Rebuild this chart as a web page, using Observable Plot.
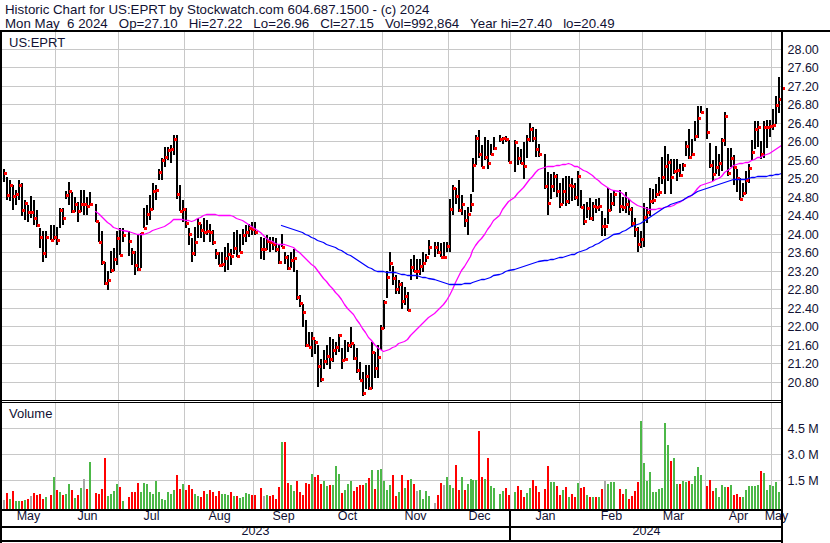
<!DOCTYPE html>
<html><head><meta charset="utf-8">
<script src="https://cdn.jsdelivr.net/npm/d3@7"></script>
<script src="https://cdn.jsdelivr.net/npm/@observablehq/plot@0.6"></script>
<style>
body{margin:0;background:#fff;}
#c{position:relative;width:830px;height:543px;overflow:hidden;font-family:"Liberation Sans",Arial,sans-serif;color:#111133;}
.t{position:absolute;white-space:pre;line-height:1;}
.ln{position:absolute;background:#000;}
#c svg{position:absolute;left:0;overflow:visible;}
</style></head><body><div id="c"></div>
<script>
// ---- data ----
const firstDay = "2023-05-08", lastDay = "2024-05-06";
const holidays = ["2023-05-29","2023-06-19","2023-07-04","2023-09-04","2023-11-23","2023-12-25","2024-01-01","2024-01-15","2024-02-19","2024-03-29"];

const high = [
25.41,25.23,25.16,25.05,24.94,25.16,25.09,24.73,24.62,24.82,24.73,24.51,24.12,24.05,24.05,
24.20,24.19,24.15,24.55,24.55,24.92,25.12,24.91,24.80,24.69,24.94,24.94,24.80,24.91,
24.64,24.26,24.05,23.40,23.19,23.62,23.69,24.05,24.12,24.12,
24.06,23.69,23.62,23.98,24.01,24.55,24.62,24.84,25.09,25.05,25.41,25.63,25.88,25.88,25.91,26.14,26.14,25.05,24.73,24.55,24.12,23.90,24.15,24.33,24.22,24.33,24.29,24.22,24.08,23.68,23.61,23.61,23.72,23.79,23.68,24.04,24.08,24.00,24.11,24.18,24.22,24.26,24.26,
23.94,23.90,23.97,23.93,23.93,23.90,23.75,24.00,23.61,23.54,23.61,23.68,23.21,22.67,22.49,22.13,21.88,21.88,21.70,21.59,21.30,21.48,21.59,21.77,21.73,21.66,21.84,21.52,21.70,21.66,21.98,21.62,21.52,21.23,21.01,21.16,21.16,21.66,21.44,21.59,22.03,22.57,23.20,23.61,23.30,23.10,23.00,22.95,22.85,22.75,23.46,23.53,23.46,23.46,23.61,23.57,23.86,
23.82,23.82,23.79,23.82,23.82,24.76,25.05,24.98,25.16,24.83,24.51,24.58,24.87,25.63,26.14,26.24,25.91,26.09,26.02,25.95,26.09,
26.13,26.09,26.12,26.02,
26.02,25.88,25.84,25.99,26.13,26.40,26.31,26.27,25.95,
25.73,25.34,25.30,25.34,25.30,25.10,25.20,25.25,25.25,25.20,25.10,25.35,24.95,24.64,24.68,24.78,24.68,24.75,24.78,24.50,24.35,25.00,24.89,24.94,
24.95,24.80,24.90,24.75,24.57,24.35,24.14,24.06,24.66,24.57,25.00,24.96,25.07,25.22,25.65,25.90,25.72,25.61,25.61,25.61,25.51,25.54,26.01,26.26,26.05,26.44,26.77,26.77,
26.73,25.97,25.60,25.90,25.72,26.06,26.64,25.85,25.85,25.70,25.40,25.20,25.10,25.35,25.50,26.03,26.43,26.43,26.00,26.43,26.45,26.45,26.70,26.98,27.40,27.22];

const low = [
25.12,24.73,24.71,24.51,24.62,24.73,24.39,24.30,24.26,24.33,24.19,24.15,23.69,23.39,23.47,
23.87,23.87,23.76,24.12,24.19,24.75,24.62,24.44,24.48,24.25,24.48,24.41,24.41,24.62,
24.26,23.83,23.33,22.90,22.79,23.15,23.19,23.33,23.54,23.83,
23.51,23.33,23.11,23.19,23.26,24.12,24.19,24.30,24.51,24.73,25.16,25.16,25.45,25.59,25.52,25.70,24.75,24.49,24.26,24.12,23.76,23.39,23.51,23.90,23.90,23.82,23.97,23.82,23.75,23.46,23.33,23.28,23.17,23.21,23.32,23.57,23.50,23.61,23.75,23.82,23.93,23.97,23.97,
23.46,23.43,23.64,23.61,23.64,23.61,23.35,23.72,23.35,23.21,23.25,23.17,22.56,22.42,21.98,21.55,21.55,21.34,21.41,20.69,20.80,21.08,21.16,21.08,21.23,21.37,21.44,21.08,21.26,21.44,21.52,21.26,20.99,20.83,20.49,20.65,20.63,20.65,20.87,20.87,21.48,21.95,22.60,23.20,22.90,22.70,22.70,22.37,22.45,22.34,23.00,23.17,23.03,23.10,23.17,23.39,23.53,
23.50,23.57,23.50,23.46,23.61,23.61,24.40,24.65,24.47,24.40,24.15,23.98,24.47,24.90,25.48,25.63,25.44,25.59,25.41,25.70,25.81,
25.99,25.95,25.99,25.55,
25.34,25.48,25.50,25.19,25.63,25.99,25.99,25.66,25.66,
24.97,24.40,24.75,24.90,24.80,24.55,24.65,24.60,24.65,24.70,24.72,24.60,24.55,24.20,24.35,24.30,24.28,24.45,24.50,23.96,23.96,24.21,24.50,24.60,
24.45,24.50,24.45,24.40,24.14,23.92,23.60,23.70,23.72,24.24,24.39,24.64,24.78,24.82,25.07,24.86,25.15,24.86,25.29,25.15,25.22,25.36,25.69,25.62,25.69,26.01,26.08,26.62,
26.05,25.43,25.15,25.30,25.24,25.36,25.90,25.25,25.45,25.05,24.90,24.72,24.80,24.85,25.10,25.60,25.83,25.87,25.62,25.63,25.85,26.10,26.25,26.37,26.62,26.96];

const close = [
25.32,24.84,25.05,24.82,24.86,25.05,24.51,24.66,24.46,24.46,24.35,24.20,23.93,23.59,23.93,
23.87,23.93,23.87,24.52,24.35,24.84,24.92,24.49,24.64,24.49,24.64,24.64,24.61,24.65,
24.27,23.83,23.40,22.93,23.01,23.21,23.46,23.90,23.54,23.97,
23.85,23.61,23.33,23.23,24.01,24.13,24.42,24.53,24.93,24.95,25.34,25.60,25.65,25.81,25.83,26.04,24.87,24.49,24.54,24.23,23.99,23.59,23.82,24.24,24.08,24.04,24.05,24.04,23.82,23.59,23.33,23.35,23.48,23.57,23.52,23.70,23.52,23.61,23.98,24.04,24.13,24.11,24.04,
23.66,23.66,23.85,23.82,23.77,23.68,23.39,23.72,23.50,23.25,23.44,23.48,22.63,22.51,22.31,21.59,21.55,21.75,21.66,21.14,20.85,21.25,21.35,21.30,21.49,21.55,21.80,21.28,21.29,21.59,21.64,21.31,21.05,20.83,20.55,20.93,20.67,21.44,21.10,21.34,21.96,22.53,23.07,23.36,23.05,22.80,22.92,22.55,22.66,22.36,23.28,23.20,23.20,23.30,23.37,23.50,23.71,
23.71,23.61,23.50,23.50,23.74,24.53,24.99,24.82,24.51,24.65,24.29,24.42,24.65,25.48,26.07,25.73,25.44,25.66,25.52,25.73,25.85,
26.04,26.06,26.05,25.55,
25.99,25.64,25.52,25.46,26.04,26.26,26.07,25.83,25.73,
25.03,24.67,25.03,25.24,24.92,24.65,24.92,24.70,25.05,25.03,24.80,25.25,24.57,24.27,24.55,24.35,24.60,24.57,24.61,24.17,24.17,24.52,24.67,24.87,
24.60,24.57,24.65,24.54,24.24,24.11,23.78,23.88,24.37,24.48,24.71,24.73,24.86,24.91,25.22,25.47,25.56,25.23,25.35,25.38,25.27,25.49,25.90,25.67,25.72,26.12,26.51,26.64,
26.19,25.49,25.30,25.45,25.52,26.03,26.54,25.32,25.64,25.45,25.20,24.75,24.89,25.16,25.43,25.77,26.26,26.31,25.72,26.30,26.31,26.34,26.35,26.79,26.91,27.15];

// volume in millions of shares
const volume = [
0.35,0.75,0.42,0.87,0.31,0.27,0.31,0.35,0.42,0.60,0.75,0.64,0.68,0.42,0.52,
0.64,1.66,0.93,0.79,0.64,0.68,1.24,0.93,0.44,0.64,1.02,1.56,0.98,2.53,
0.75,0.68,0.98,2.76,0.56,0.71,0.87,1.24,1.09,0.31,
0.52,0.79,0.79,1.32,0.83,1.32,1.28,0.83,0.68,1.45,0.79,0.42,0.35,0.79,0.68,0.90,1.79,0.98,1.28,0.94,1.22,0.98,0.68,0.60,0.52,0.87,0.70,0.90,0.80,0.60,0.86,0.70,0.67,0.62,0.82,0.60,0.60,0.45,0.50,0.72,0.68,0.62,0.65,
1.02,0.56,0.64,0.56,0.64,0.42,1.11,3.72,3.72,1.32,1.20,0.87,1.45,0.83,0.64,1.32,1.26,1.84,1.69,1.80,1.26,1.45,1.18,1.20,1.20,2.32,1.84,0.73,0.92,1.24,1.47,0.87,1.11,1.20,1.20,1.30,1.60,2.07,0.98,2.09,2.15,1.45,0.92,1.20,1.80,0.56,0.83,1.80,1.05,1.50,1.56,1.25,0.86,0.92,0.40,0.86,0.59,
0.15,0.63,1.31,1.21,1.67,1.21,1.02,2.37,0.92,1.67,0.92,1.25,1.54,1.50,1.50,4.34,1.67,1.56,2.76,1.15,1.02,
0.69,0.86,1.02,0.63,
0.82,1.15,0.92,0.53,0.73,1.02,1.48,1.15,0.78,
0.98,2.31,1.36,1.36,1.15,0.63,0.92,1.07,0.49,0.69,0.53,1.31,1.06,1.11,0.63,0.53,0.53,0.53,0.53,0.96,1.44,1.25,1.36,1.36,
0.98,0.71,0.98,0.40,0.57,0.86,1.36,4.92,2.47,1.44,1.95,0.78,0.78,0.98,1.02,4.81,3.53,2.60,2.76,1.25,1.25,1.44,1.36,1.44,1.25,1.75,2.24,1.79,
1.15,1.48,0.86,1.02,0.53,1.21,1.11,1.11,1.21,0.63,0.71,0.53,0.51,0.92,1.17,1.17,1.17,1.20,2.02,1.91,0.92,1.21,1.17,1.36,0.82,0.99];

const monthStarts = ["2023-06-01","2023-07-01","2023-08-01","2023-09-01","2023-10-01","2023-11-01","2023-12-01","2024-01-01","2024-02-01","2024-03-01","2024-04-01","2024-05-01"];
const monthNames = ["May","Jun","Jul","Aug","Sep","Oct","Nov","Dec","Jan","Feb","Mar","Apr","May"];
const yearNames = ["2023","2024"];
const priceTicks = [20.80,21.20,21.60,22.00,22.40,22.80,23.20,23.60,24.00,24.40,24.80,25.20,25.60,26.00,26.40,26.80,27.20,27.60,28.00];
const volumeTicks = [1.5,3.0,4.5];
const titleLine1 = "Historic Chart for US:EPRT by Stockwatch.com 604.687.1500 - (c) 2024";
const titleLine2 = "Mon May  6 2024   Op=27.10   Hi=27.22   Lo=26.96   Cl=27.15   Vol=992,864   Year hi=27.40   lo=20.49";
const symbolName = "US:EPRT";
const volumeName = "Volume";

// ---- weekday slots (holidays keep an empty slot) ----
const iso = d => d.toISOString().slice(0,10);
const slotOf = new Map();
{
  let d = new Date(firstDay+"T00:00:00Z"), s = 0;
  const end = new Date(lastDay+"T00:00:00Z").getTime();
  while (d.getTime() <= end) {
    const wd = d.getUTCDay();
    if (wd !== 0 && wd !== 6) slotOf.set(iso(d), s++);
    d = new Date(d.getTime() + 864e5);
  }
}
const hol = new Set(holidays);
const tradingSlots = [...slotOf.entries()].filter(([k]) => !hol.has(k)).map(([,v]) => v);
const data = tradingSlots.map((slot, i) => ({
  slot, high: high[i], low: low[i], close: close[i], volume: volume[i],
  dir: i === 0 ? 0 : Math.sign(Math.round((close[i] - close[i-1]) * 100))
}));

function boundary(s) {
  const d = new Date(s+"T00:00:00Z"), wd = d.getUTCDay();
  if (wd !== 0 && wd !== 6) return slotOf.get(s) - 0.35;
  let p = d;
  do { p = new Date(p.getTime() - 864e5); } while (p.getUTCDay() === 0 || p.getUTCDay() === 6);
  return slotOf.get(iso(p)) - 0.3;
}
const xDomain = [-0.87, 260.41];
const bounds = monthStarts.map(boundary);
const edges = [xDomain[0], ...bounds, xDomain[1]];
const monthLabels = monthNames.map((name, i) => ({name, x: (edges[i] + edges[i+1]) / 2}));
const janBound = boundary("2024-01-01");
const yearLabels = [{name: yearNames[0], x: (xDomain[0] + janBound) / 2}, {name: yearNames[1], x: (janBound + xDomain[1]) / 2}];

const GREEN = "#4cb848", RED = "#ff0000", GRAY = "#a8a8a8", GRID = "#c8c8c8";
const font = "'Liberation Sans', Arial, sans-serif";
const colorOf = d => d.dir > 0 ? GREEN : d.dir < 0 ? RED : GRAY;

const c = document.getElementById("c");

// ---- price panel (page y 32..400) ----
const price = Plot.plot({
  width: 830, height: 368, marginLeft: 0, marginRight: 48, marginTop: 0, marginBottom: 0,
  x: {domain: xDomain, axis: null, round: true},
  y: {domain: [20.405, 28.363], axis: null, round: true, label: null},
  style: {fontFamily: font, fontSize: "12.5px", color: "#111133", background: "transparent"},
  marks: [
    Plot.gridY(priceTicks, {stroke: GRID, strokeOpacity: 1}),
    Plot.gridX(bounds, {stroke: GRID, strokeOpacity: 1}),
    Plot.ruleX(data, {x: "slot", y1: "low", y2: "high", stroke: "#000", strokeWidth: 2, dx: 0.5}),
    Plot.dot(data, {x: "slot", y: "close", symbol: "square", r: 1.45, fill: RED, stroke: "none", dx: 2, shapeRendering: "crispEdges"}),
    Plot.lineY(data, Plot.windowY({k: 30, anchor: "end", strict: true, reduce: "mean"}, {x: "slot", y: "close", stroke: "#ff00ff", strokeWidth: 1.3})),
    Plot.lineY(data, Plot.windowY({k: 90, anchor: "end", strict: true, reduce: "mean"}, {x: "slot", y: "close", stroke: "#0000ff", strokeWidth: 1.3})),
    Plot.axisY(priceTicks, {anchor: "right", label: null, tickSize: 0, tickPadding: 5, tickFormat: d => d.toFixed(2), fontSize: 12.5})
  ]
});
price.style.top = "32px";
c.appendChild(price);

// ---- volume panel (page y 402..510) + date axis ----
const vol = Plot.plot({
  width: 830, height: 141, marginLeft: 0, marginRight: 48, marginTop: 0, marginBottom: 33,
  x: {domain: xDomain, axis: null, round: true},
  y: {domain: [-0.241, 6.027], axis: null, round: true, label: null},
  style: {fontFamily: font, fontSize: "12.5px", color: "#111133", background: "transparent"},
  marks: [
    Plot.gridY(volumeTicks, {stroke: GRID, strokeOpacity: 1}),
    Plot.gridX(bounds, {stroke: GRID, strokeOpacity: 1}),
    Plot.ruleX(data, {x: "slot", y1: -0.241, y2: "volume", stroke: colorOf, strokeWidth: 2, dx: 0.5}),
    Plot.axisY(volumeTicks, {anchor: "right", label: null, tickSize: 0, tickPadding: 5, tickFormat: d => d.toFixed(1) + " M", fontSize: 12.5}),
    Plot.text(monthLabels, {x: "x", text: "name", frameAnchor: "bottom", dy: 9, fontSize: 12.5, fill: "#111133"}),
    Plot.text(yearLabels, {x: "x", text: "name", frameAnchor: "bottom", dy: 24.5, fontSize: 12.5, fill: "#111133"})
  ]
});
vol.style.top = "402px";
c.appendChild(vol);

// ---- texts ----
function addText(txt, left, top, size) {
  const e = document.createElement("div");
  e.className = "t"; e.textContent = txt;
  e.style.left = left + "px"; e.style.top = top + "px"; e.style.fontSize = size + "px";
  c.appendChild(e);
}
addText(titleLine1, 5, 2.8, 13.3);
addText(titleLine2, 5, 17, 13.3);
addText(symbolName, 9, 35.5, 13);
addText(volumeName, 9, 407, 13);

// ---- frame lines ----
function line(l, t, w, h) {
  const e = document.createElement("div");
  e.className = "ln";
  Object.assign(e.style, {left: l+"px", top: t+"px", width: w+"px", height: h+"px"});
  c.appendChild(e);
}
line(0, 30, 830, 2);
line(0, 30, 2, 513);
line(781, 30, 2, 513);
line(0, 400, 782, 1);
line(0, 402, 782, 1);
line(0, 509, 783, 2);
line(0, 526, 783, 2);
line(0, 540, 783, 2);
line(509, 509, 2, 33);
</script>
</body></html>
